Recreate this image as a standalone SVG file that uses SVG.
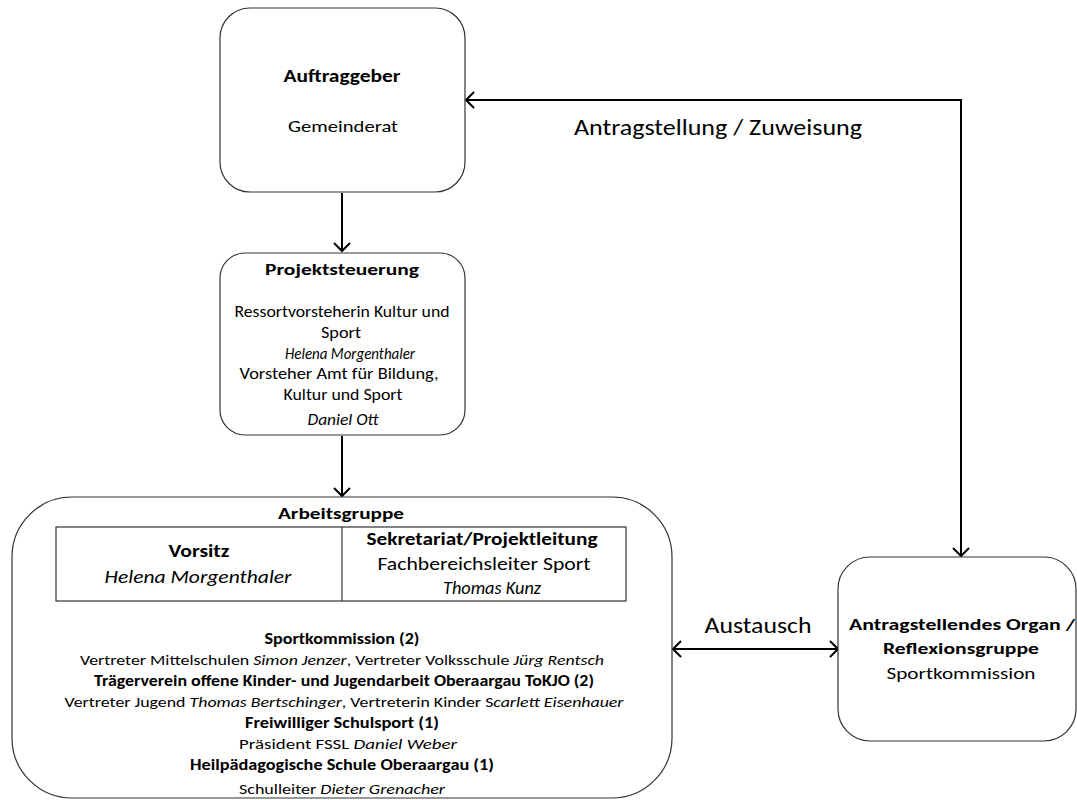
<svg xmlns="http://www.w3.org/2000/svg" width="1077" height="800" viewBox="0 0 1077 800">
<style>
text{font-family:Carlito,Lato,"Open Sans","Liberation Sans",sans-serif;fill:#000;text-anchor:middle}
.b{font-weight:bold}
.i{font-style:italic}
.box{fill:#fff;stroke:#333;stroke-width:1.2}
.conn{fill:none;stroke:#000;stroke-width:2}
</style>
<defs>
<marker id="arr" markerUnits="userSpaceOnUse" markerWidth="20" markerHeight="20" viewBox="0 0 20 20" refX="10" refY="10" orient="auto-start-reverse">
<path d="M2,2 L10,10 L2,18" fill="none" stroke="#000" stroke-width="2"/>
</marker>
</defs>
<rect width="1077" height="800" fill="#fff"/>

<g id="connectors">
<path class="conn" d="M342,193 L342,251" marker-end="url(#arr)"/>
<path class="conn" d="M342,436 L342,496" marker-end="url(#arr)"/>
<path class="conn" d="M961,556 L961,100 L466,100" marker-start="url(#arr)" marker-end="url(#arr)"/>
<path class="conn" d="M673,649 L838,649" marker-start="url(#arr)" marker-end="url(#arr)"/>
<text x="718" y="135" font-size="22" textLength="288" lengthAdjust="spacingAndGlyphs">Antragstellung / Zuweisung</text>
<text x="758" y="633" font-size="23" textLength="107" lengthAdjust="spacingAndGlyphs">Austausch</text>
</g>

<g id="auftraggeber">
<rect class="box" x="220" y="8" width="245" height="184" rx="30"/>
<text class="b" x="342" y="82" font-size="18" textLength="117" lengthAdjust="spacingAndGlyphs">Auftraggeber</text>
<text x="343" y="132" font-size="17" textLength="110" lengthAdjust="spacingAndGlyphs">Gemeinderat</text>
</g>

<g id="projektsteuerung">
<rect class="box" x="220" y="253" width="245" height="182" rx="25"/>
<text class="b" x="342" y="275" font-size="16" textLength="154" lengthAdjust="spacingAndGlyphs">Projektsteuerung</text>
<text x="342" y="317" font-size="15.5" textLength="215" lengthAdjust="spacingAndGlyphs">Ressortvorsteherin Kultur und</text>
<text x="341" y="338" font-size="15.5" textLength="40" lengthAdjust="spacingAndGlyphs">Sport</text>
<text class="i" x="350" y="359" font-size="16" textLength="130" lengthAdjust="spacingAndGlyphs">Helena Morgenthaler</text>
<text x="339" y="379" font-size="15.5" textLength="199" lengthAdjust="spacingAndGlyphs">Vorsteher Amt für Bildung,</text>
<text x="343" y="400" font-size="15.5" textLength="119" lengthAdjust="spacingAndGlyphs">Kultur und Sport</text>
<text class="i" x="343" y="425" font-size="15.5" textLength="71" lengthAdjust="spacingAndGlyphs">Daniel Ott</text>
</g>

<g id="arbeitsgruppe">
<rect class="box" x="12" y="497" width="660" height="301" rx="60"/>
<text class="b" x="341" y="519" font-size="16" textLength="126" lengthAdjust="spacingAndGlyphs">Arbeitsgruppe</text>
<rect x="56" y="527" width="570" height="74" fill="none" stroke="#333" stroke-width="1.2"/>
<line x1="342" y1="527" x2="342" y2="601" stroke="#333" stroke-width="1.2"/>
<text class="b" x="199" y="557" font-size="18" textLength="61" lengthAdjust="spacingAndGlyphs">Vorsitz</text>
<text class="i" x="198" y="583" font-size="18" textLength="187" lengthAdjust="spacingAndGlyphs">Helena Morgenthaler</text>
<text class="b" x="482" y="545" font-size="18" textLength="231" lengthAdjust="spacingAndGlyphs">Sekretariat/Projektleitung</text>
<text x="484" y="570" font-size="18" textLength="213" lengthAdjust="spacingAndGlyphs">Fachbereichsleiter Sport</text>
<text class="i" x="492" y="594" font-size="19" textLength="98" lengthAdjust="spacingAndGlyphs">Thomas Kunz</text>

<text class="b" x="342" y="644" font-size="15" textLength="155" lengthAdjust="spacingAndGlyphs">Sportkommission (2)</text>
<text x="342" y="665" font-size="15" textLength="524" lengthAdjust="spacingAndGlyphs">Vertreter Mittelschulen <tspan class="i">Simon Jenzer</tspan>, Vertreter Volksschule <tspan class="i">Jürg Rentsch</tspan></text>
<text class="b" x="344" y="686" font-size="15" textLength="500" lengthAdjust="spacingAndGlyphs">Trägerverein offene Kinder- und Jugendarbeit Oberaargau ToKJO (2)</text>
<text x="344" y="707" font-size="15" textLength="559" lengthAdjust="spacingAndGlyphs">Vertreter Jugend <tspan class="i">Thomas Bertschinger</tspan>, Vertreterin Kinder S<tspan class="i">carlett Eisenhauer</tspan></text>
<text class="b" x="342" y="728" font-size="15" textLength="194" lengthAdjust="spacingAndGlyphs">Freiwilliger Schulsport (1)</text>
<text x="348" y="749" font-size="15" textLength="218" lengthAdjust="spacingAndGlyphs">Präsident FSSL <tspan class="i">Daniel Weber</tspan></text>
<text class="b" x="342" y="770" font-size="15" textLength="304" lengthAdjust="spacingAndGlyphs">Heilpädagogische Schule Oberaargau (1)</text>
<text x="342" y="794" font-size="15" textLength="206" lengthAdjust="spacingAndGlyphs">Schulleiter <tspan class="i">Dieter Grenacher</tspan></text>
</g>

<g id="antragstellendes-organ">
<rect class="box" x="838" y="557" width="238" height="184" rx="32"/>
<text class="b" x="962" y="630" font-size="16.5" textLength="226" lengthAdjust="spacingAndGlyphs">Antragstellendes Organ /</text>
<text class="b" x="961" y="654" font-size="16.5" textLength="156" lengthAdjust="spacingAndGlyphs">Reflexionsgruppe</text>
<text x="961" y="679" font-size="16.5" textLength="149" lengthAdjust="spacingAndGlyphs">Sportkommission</text>
</g>
</svg>
